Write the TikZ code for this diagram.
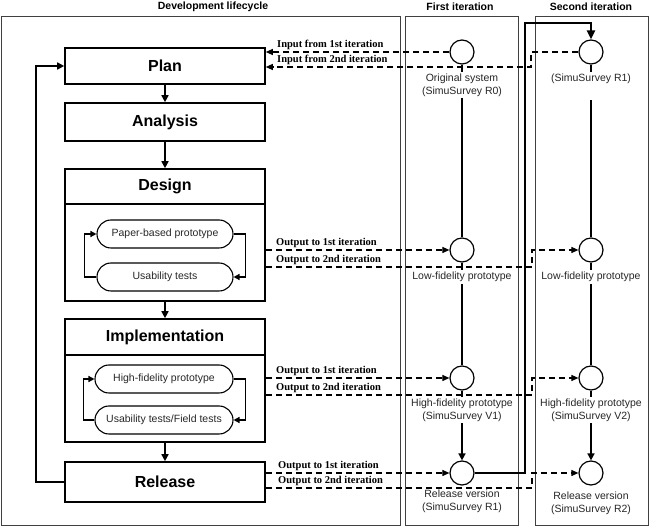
\documentclass[tikz,border=0pt]{standalone}
\usepackage{fontspec}
\setmainfont{Liberation Sans}
\newfontfamily\tnr{Liberation Serif}
\usetikzlibrary{arrows.meta,calc}
\begin{document}
\begin{tikzpicture}[x=1pt,y=-1pt,
  phase/.style={draw, line width=1.6pt, minimum width=200pt, inner sep=0pt, font=\fontsize{16}{18}\selectfont\bfseries},
  phaseframe/.style={draw, line width=1.6pt, minimum width=200pt, inner sep=0pt},
  sub/.style={draw, line width=1.1pt, rounded corners=14pt, minimum width=136pt, minimum height=28pt, inner sep=0pt, font=\fontsize{10.5}{12}\selectfont, text=black!85},
  flow/.style={line width=1.6pt, -{Triangle[length=7pt,width=7pt]}},
  loopa/.style={line width=1.4pt, -{Triangle[length=6pt,width=6pt]}},
  pt/.style={circle, draw, line width=1.2pt, minimum size=24pt, inner sep=0pt},
  vline/.style={line width=1.6pt},
  clabel/.style={fill=white, align=center, inner sep=2pt, font=\fontsize{10.5}{13}\selectfont, text=black!85},
  dasharrow/.style={line width=1.1pt, dash pattern=on 6pt off 4pt, -{Triangle[length=7pt,width=6pt]}},
  tlabel/.style={anchor=south west, inner sep=1pt, font=\tnr\bfseries\fontsize{10.5}{12}\selectfont},
  frame/.style={draw=black!75, line width=0.9pt},
  head/.style={font=\bfseries\fontsize{10.5}{12}\selectfont}
]
\useasboundingbox (0,0) rectangle (649,526);

% headers
\node[head] (h1) at (213,7) {Development lifecycle};
\node[head] (h2) at (460,7) {First iteration};
\node[head] (h3) at (591,7) {Second iteration};

% lifecycle boxes
\node[phase, minimum height=36pt] (plan) at (165,66) {Plan};
\node[phase, minimum height=38pt] (analysis) at (165,122) {Analysis};
\node[phaseframe, minimum height=132pt] (design) at (165,235) {};
\node[phase, minimum height=35pt] (designT) at (165,186.5) {Design};
\node[phaseframe, minimum height=123pt] (impl) at (165,380.5) {};
\node[phase, minimum height=36pt] (implT) at (165,337) {Implementation};
\node[phase, minimum height=40pt] (release) at (165,482) {Release};

% inner loops
\node[sub] (p1) at (165,234) {Paper-based prototype};
\node[sub] (u1) at (165,277) {Usability tests};
\node[sub, minimum width=138pt] (p2) at (164,379) {High-fidelity prototype};
\node[sub, minimum width=138pt] (u2) at (164,420) {Usability tests/Field tests};
\draw[loopa] (u1.west) -- ++(-12,0) |- (p1.west);
\draw[loopa] (p1.east) -- ++(12,0) |- (u1.east);
\draw[loopa] (u2.west) -- ++(-11,0) |- (p2.west);
\draw[loopa] (p2.east) -- ++(12,0) |- (u2.east);

% flow arrows
\draw[flow] (plan) -- (analysis);
\draw[flow] (analysis) -- (design);
\draw[flow] (design) -- (impl);
\draw[flow] (impl) -- (release);
\coordinate (fb) at (36,482);
\draw[flow] (release.west) -- (fb) |- (plan.west);

% iteration points
\node[pt] (c0) at (462,52) {};
\node[pt] (c1) at (462,250) {};
\node[pt] (c2) at (462,378) {};
\node[pt] (c3) at (462,473) {};
\node[pt] (d0) at (591,52) {};
\node[pt] (d1) at (591,250) {};
\node[pt] (d2) at (591,378) {};
\node[pt] (d3) at (591,473) {};

\draw[vline] (c0) -- (c1);
\draw[vline] (c1) -- (c2);
\draw[vline, -{Triangle[length=7pt,width=7pt]}] (c2) -- (c3);
\draw[vline] (d0) -- (d1);
\draw[vline] (d1) -- (d2);
\draw[vline, -{Triangle[length=7pt,width=7pt]}] (d2) -- (d3);

\node[clabel] (l0) at (462,85) {Original system\\(SimuSurvey R0)};
\node[clabel] (m0) at (591,86) {(SimuSurvey R1)\\\strut};
\node[clabel] (l1) at (462,277) {Low-fidelity prototype};
\node[clabel] (m1) at (591,277) {Low-fidelity prototype};
\node[clabel] (l2) at (462,410) {High-fidelity prototype\\(SimuSurvey V1)};
\node[clabel] (m2) at (591,410) {High-fidelity prototype\\(SimuSurvey V2)};
\node[clabel] (l3) at (462,501) {Release version\\(SimuSurvey R1)};
\node[clabel] (m3) at (591,503) {Release version\\(SimuSurvey R2)};

% frames
\draw[frame] (1,16) rectangle (400,525);
\draw[frame] (405,16) rectangle (518,525);
\draw[frame] (535,16) rectangle (648,525);

% thick release -> second iteration
\coordinate (t1) at (525,23);
\draw[line width=2.2pt, -{Triangle[length=9pt,width=8pt]}] (c3.east) -| (t1) -| (d0.north);

% dashed inputs
\draw[dasharrow] (c0.west) -- (c0.west -| plan.east);
\coordinate (j0) at (531,67);
\draw[dasharrow] (d0.west) -| (j0) -- (j0 -| plan.east);
\node[tlabel] at (276,51) {Input from 1st iteration};
\node[tlabel] at (276,66) {Input from 2nd iteration};

% dashed outputs: design
\draw[dasharrow] (c1.west -| design.east) -- (c1.west);
\coordinate (j1) at (532,267);
\draw[dasharrow] (j1 -| design.east) -- (j1) |- (d1.west);
\node[tlabel] at (275,249) {Output to 1st iteration};
\node[tlabel] at (275,266) {Output to 2nd iteration};

% dashed outputs: implementation
\draw[dasharrow] (c2.west -| impl.east) -- (c2.west);
\coordinate (j2) at (532,395);
\draw[dasharrow] (j2 -| impl.east) -- (j2) |- (d2.west);
\node[tlabel] at (275,377) {Output to 1st iteration};
\node[tlabel] at (275,394) {Output to 2nd iteration};

% dashed outputs: release
\draw[dasharrow] (c3.west -| release.east) -- (c3.west);
\coordinate (j3) at (532,488);
\draw[dasharrow] (j3 -| release.east) -- (j3) |- (d3.west);
\node[tlabel] at (277,472) {Output to 1st iteration};
\node[tlabel] at (277,487) {Output to 2nd iteration};
\end{tikzpicture}
\end{document}
